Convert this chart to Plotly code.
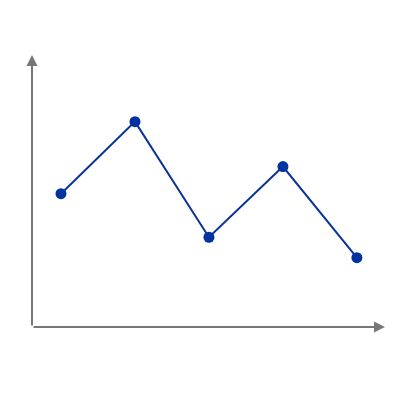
import plotly.graph_objects as go

x_values = [1, 2, 3, 4, 5]
y_values = [4.9, 7.55, 3.3, 5.9, 2.55]

fig = go.Figure()
fig.add_scatter(x=x_values, y=y_values, mode='lines+markers',
                line=dict(color='#0a3399', width=2),
                marker=dict(color='#0033a0', size=11))

# axes drawn as arrows from the origin corner
axis_color = '#777777'
for ax_end in [(1, 0), (0, 1)]:
    fig.add_annotation(x=ax_end[0], y=ax_end[1], ax=0, ay=0,
                       xref='x domain', yref='y domain',
                       axref='x domain', ayref='y domain',
                       showarrow=True, arrowhead=2, arrowsize=1.1,
                       arrowwidth=2, arrowcolor=axis_color, text='')

fig.update_layout(width=400, height=400,
                  margin=dict(l=24, r=23, t=47, b=81),
                  paper_bgcolor='white', plot_bgcolor='white',
                  showlegend=False,
                  xaxis=dict(range=[0.608, 5.38], visible=False),
                  yaxis=dict(range=[0, 10], visible=False))

fig.write_html("out.html")
